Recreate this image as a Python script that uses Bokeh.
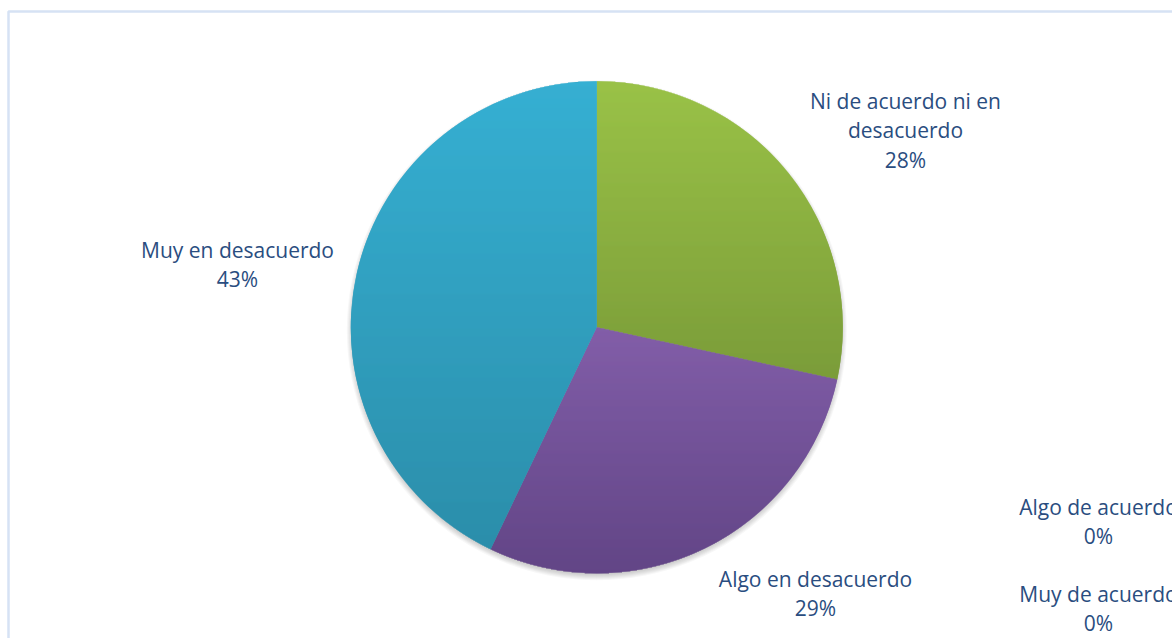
import math
import textwrap
import numpy as np
from bokeh.plotting import figure
from bokeh.models import Range1d
from bokeh.core.properties import value
from bokeh.embed import file_html
from bokeh.resources import INLINE

# ---- data (clockwise from 12 o'clock) ----
categories = ["Muy de acuerdo", "Algo de acuerdo", "Ni de acuerdo ni en desacuerdo",
              "Algo en desacuerdo", "Muy en desacuerdo"]
percentages = [0.0, 0.0, 28.4, 28.7, 42.9]
top_colors = ["#5b8ccc", "#d0605c", "#9ec84a", "#8762ae", "#38b5d9"]
bottom_colors = ["#3f6aa1", "#a03f3c", "#769637", "#5d4180", "#2a88a3"]
label_x_px = [1098, 1098, 905, 815, 237]
label_y_px = [608, 521, 130, 593, 264]

W, H = 1172, 638
CX, CY, R = 596.3, H - 326.8, 246.0

p = figure(width=W, height=H, x_range=Range1d(0, W), y_range=Range1d(0, H),
           output_backend="svg", toolbar_location=None, min_border=0,
           x_axis_location=None, y_axis_location=None,
           background_fill_color="white", border_fill_color="white")
p.grid.visible = False
p.outline_line_color = None

# chart-area border
p.quad(left=[8], right=[W + 50], top=[H - 11], bottom=[-50],
       fill_color=None, line_color="#d6e2f4", line_width=2.5)

# soft shadow under the pie
for k in range(7):
    p.circle(x=[CX], y=[CY - 3], radius=R - 2 + k, fill_color="black",
             fill_alpha=0.03, line_color=None)


def mix(c1, c2, t):
    a = [int(c1[i:i + 2], 16) for i in (1, 3, 5)]
    b = [int(c2[i:i + 2], 16) for i in (1, 3, 5)]
    return "#%02x%02x%02x" % tuple(round(a[j] + (b[j] - a[j]) * t) for j in range(3))


# wedges
starts, ends, mids = [], [], []
cum = 0.0
slices = []
for cat, v, ct, cb in zip(categories, percentages, top_colors, bottom_colors):
    a0 = 90 - 360 * cum / 100
    a1 = 90 - 360 * (cum + v) / 100
    cum += v
    if v <= 0:
        continue
    starts.append(a0)
    ends.append(a1)
    mids.append(mix(ct, cb, 0.5))
    slices.append((a0, 360 * v / 100, ct, cb))

p.wedge(x=CX, y=CY, radius=R, start_angle=starts, end_angle=ends,
        start_angle_units="deg", end_angle_units="deg", direction="clock",
        fill_color=mids, line_color=None)

# vertical gradient per slice (drawn as thin rows over each wedge)
for a0, sweep, ct, cb in slices:
    rows = []
    for yi in range(int(CY - R) - 1, int(CY + R) + 2):
        yc = yi + 0.5
        dy = yc - CY
        if abs(dy) >= R:
            continue
        c = math.sqrt(R * R - dy * dy)
        xs = np.linspace(CX - c, CX + c, 4000)
        ang = np.degrees(np.arctan2(dy, xs - CX))
        d = (a0 - ang) % 360
        inside = d <= sweep
        if not inside.any():
            continue
        xin = xs[inside]
        rows.append((xin.min(), xin.max(), yi))
    ytop = max(r[2] for r in rows) + 1
    ybot = min(r[2] for r in rows)
    left = [r[0] for r in rows]
    right = [r[1] for r in rows]
    bottom = [r[2] for r in rows]
    top = [r[2] + 1 for r in rows]
    cols = [mix(ct, cb, (ytop - (r[2] + 0.5)) / (ytop - ybot)) for r in rows]
    p.quad(left=left, right=right, bottom=bottom, top=top,
           fill_color=cols, line_color=None)

# labels
labels = [textwrap.fill(cat, 20) + "\n" + f"{v:.0f}%" for cat, v in zip(categories, percentages)]
p.text(x=label_x_px, y=[H - y for y in label_y_px], text=labels,
       text_align="center", text_baseline="middle",
       text_font=value("Open Sans"), text_font_size="21px",
       text_color="#2a4d80", text_line_height=1.05)

open("out.html", "w").write(file_html(p, INLINE))
